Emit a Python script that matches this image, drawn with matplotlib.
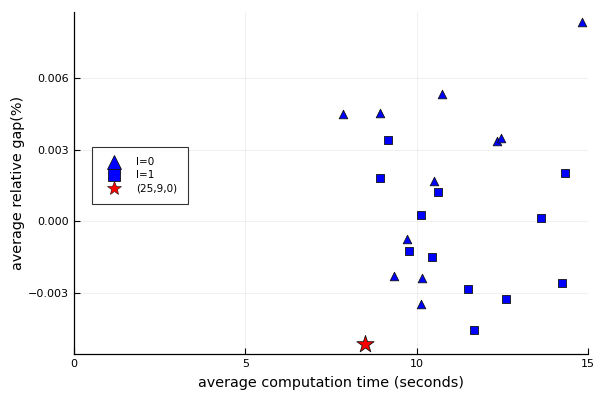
import matplotlib
matplotlib.use("Agg")
import matplotlib.pyplot as plt
from matplotlib.lines import Line2D

# l=0 (triangles)
l0_time = [14.82, 7.85, 8.93, 10.74, 12.33, 12.45, 10.50, 9.71, 9.33, 10.16, 10.14]
l0_gap = [0.00838, 0.00450, 0.00455, 0.00533, 0.00338, 0.00349, 0.00169, -0.00072, -0.00228, -0.00236, -0.00346]

# l=1 (squares)
l1_time = [9.17, 8.93, 14.33, 10.63, 10.14, 13.63, 9.79, 10.44, 14.23, 11.50, 12.61, 11.67]
l1_gap = [0.00342, 0.00182, 0.00204, 0.00125, 0.00026, 0.00014, -0.00126, -0.00151, -0.00258, -0.00283, -0.00324, -0.00457]

# (25,9,0) star
star_time = [8.49]
star_gap = [-0.00515]

x_ticks = [0, 5, 10, 15]
x_ticklabels = ["0", "5", "10", "15"]
y_ticks = [-0.003, 0.0, 0.003, 0.006]
y_ticklabels = ["\u22120.003", "0.000", "0.003", "0.006"]
legend_labels = ["l=0", "l=1", "(25,9,0)"]

fig = plt.figure(figsize=(6, 4), dpi=100)
ax = fig.add_axes([74/600, 1 - 354/400, (588-74)/600, (354-12)/400])

ax.scatter(l0_time, l0_gap, marker="^", s=38, c="#0000ff", edgecolors="#111111", linewidths=0.6, zorder=3)
ax.scatter(l1_time, l1_gap, marker="s", s=36, c="#0000ff", edgecolors="#111111", linewidths=0.6, zorder=3)
ax.scatter(star_time, star_gap, marker="*", s=170, c="#ff0000", edgecolors="#111111", linewidths=0.6, zorder=3)

ax.set_xlim(0, 15)
ax.set_ylim(-0.00556, 0.00878)
ax.set_xticks(x_ticks)
ax.set_xticklabels(x_ticklabels)
ax.set_yticks(y_ticks)
ax.set_yticklabels(y_ticklabels)
ax.tick_params(direction="in", length=4, width=0.8, labelsize=8, color="black")
ax.grid(True, color="black", alpha=0.07, linewidth=0.6)
ax.set_axisbelow(True)
for s in ["top", "right"]:
    ax.spines[s].set_visible(False)
for s in ["left", "bottom"]:
    ax.spines[s].set_linewidth(0.9)

ax.set_xlabel("average computation time (seconds)", fontsize=10.4, labelpad=5)
ax.set_ylabel("average relative gap(%)", fontsize=10.4, labelpad=2)

handles = [
    Line2D([], [], marker="^", linestyle="none", markersize=10, markerfacecolor="#0000ff", markeredgecolor="#111111", markeredgewidth=0.6),
    Line2D([], [], marker="s", linestyle="none", markersize=8.5, markerfacecolor="#0000ff", markeredgecolor="#111111", markeredgewidth=0.6),
    Line2D([], [], marker="*", linestyle="none", markersize=10, markerfacecolor="#ff0000", markeredgecolor="#111111", markeredgewidth=0.4),
]
leg = ax.legend(handles, legend_labels, loc="lower left", bbox_to_anchor=(0.0344, 0.4386),
                fontsize=7.5, frameon=True, fancybox=False, borderpad=1.0, labelspacing=0.3,
                handletextpad=1.1, handlelength=2.2, borderaxespad=0)
leg.get_frame().set_edgecolor("black")
leg.get_frame().set_linewidth(0.8)

fig.savefig("out.png", dpi=100)
